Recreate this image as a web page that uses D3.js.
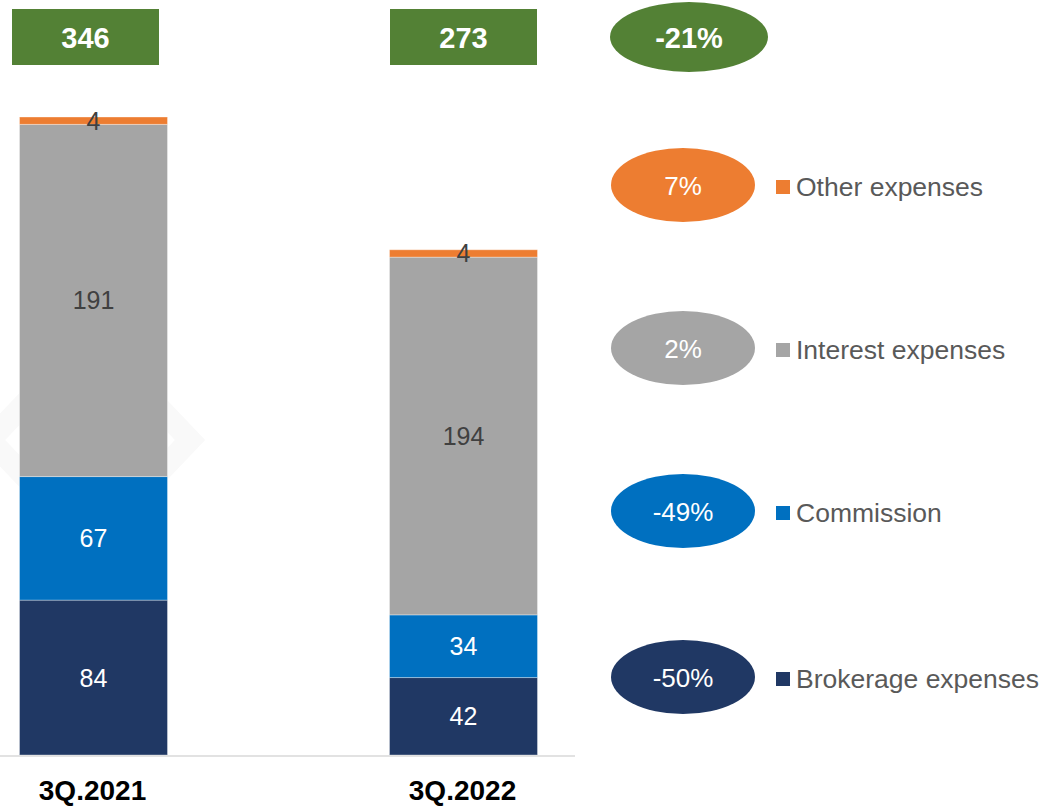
<!DOCTYPE html>
<meta charset="utf-8">
<html>
<head>
    <title>Expenses 3Q</title>
    <script type="text/javascript" src="https://cdn.jsdelivr.net/npm/d3@7"></script>
    <style type="text/css">
    	html, body {
    		padding: 0px;
    		margin: 0px;
    		background: #ffffff;
    	}
    	text {
    		font-family: "Liberation Sans", Arial, sans-serif;
    	}
    </style>
</head>
<body>
	<svg id="svg"></svg>
	<script type="text/javascript">
		// data
		var periods = ["3Q.2021", "3Q.2022"]
		var seriesNames = ["Brokerage expenses", "Commission", "Interest expenses", "Other expenses"]
		var brokerage = [84, 42]
		var commission = [67, 34]
		var interest = [191, 194]
		var other = [4, 4]
		var totals = [346, 273]
		var totalChange = "-21%"
		var seriesChange = ["-50%", "-49%", "2%", "7%"]
		var colors = ["#203864", "#0070c0", "#a5a5a5", "#ed7d31"]
		var labelColors = ["#ffffff", "#ffffff", "#404040", "#404040"]

		var width = 1043
		var height = 806
		var svg = d3.select('svg').attr('width', width).attr('height', height)

		// faint watermark behind the bars
		svg.append("polygon")
		  .attr("points", "90,335 190,440 90,545 -10,440")
		  .attr("fill", "none")
		  .attr("stroke", "#f9f9f9")
		  .attr("stroke-width", 22)

		var table = periods.map(function (p, i) {
		  return { period: p, brokerage: brokerage[i], commission: commission[i], interest: interest[i], other: other[i] }
		})
		var keys = ["brokerage", "commission", "interest", "other"]
		var stacked = d3.stack().keys(keys)(table)

		var x = d3.scaleBand().domain(periods).range([19.5, 537.5]).paddingInner(0.6).paddingOuter(0)
		var y = d3.scaleLinear().domain([0, 346]).range([755, 117])

		var layers = svg.append("g").selectAll("g")
		  .data(stacked)
		  .enter().append("g")
		  .attr("fill", function (d, i) { return colors[i] })

		layers.selectAll("rect")
		  .data(function (d) { return d })
		  .enter().append("rect")
		    .attr("x", function (d) { return x(d.data.period) })
		    .attr("width", x.bandwidth())
		    .attr("y", function (d) { return y(d[1]) })
		    .attr("height", function (d) { return y(d[0]) - y(d[1]) })
		    .attr("stroke", "rgba(255,255,255,0.35)")
		    .attr("stroke-width", 1)

		// segment labels
		layers.each(function (layer, li) {
		  d3.select(this).selectAll("text")
		    .data(layer)
		    .enter().append("text")
		      .attr("x", function (d) { return x(d.data.period) + x.bandwidth() / 2 })
		      .attr("y", function (d) { return (y(d[0]) + y(d[1])) / 2 + 9 })
		      .attr("text-anchor", "middle")
		      .attr("font-size", 25)
		      .attr("fill", labelColors[li])
		      .text(function (d) { return d[1] - d[0] })
		})

		// baseline
		svg.append("line")
		  .attr("x1", 0).attr("x2", 575)
		  .attr("y1", 756).attr("y2", 756)
		  .attr("stroke", "#d9d9d9")
		  .attr("stroke-width", 1.5)

		// category labels
		svg.append("g").selectAll("text")
		  .data(periods)
		  .enter().append("text")
		    .attr("x", function (d) { return x(d) + x.bandwidth() / 2 - 1 })
		    .attr("y", 800)
		    .attr("text-anchor", "middle")
		    .attr("font-size", 28)
		    .attr("font-weight", "bold")
		    .attr("fill", "#000000")
		    .text(function (d) { return d })

		// total boxes
		var boxX = [12, 390]
		var boxes = svg.append("g").selectAll("g")
		  .data(totals)
		  .enter().append("g")
		boxes.append("rect")
		  .attr("x", function (d, i) { return boxX[i] })
		  .attr("y", 9)
		  .attr("width", 147)
		  .attr("height", 56)
		  .attr("fill", "#538135")
		boxes.append("text")
		  .attr("x", function (d, i) { return boxX[i] + 73.5 })
		  .attr("y", 48)
		  .attr("text-anchor", "middle")
		  .attr("font-size", 29)
		  .attr("font-weight", "bold")
		  .attr("fill", "#ffffff")
		  .text(function (d) { return d })

		// total change ellipse
		svg.append("ellipse")
		  .attr("cx", 689).attr("cy", 37)
		  .attr("rx", 79).attr("ry", 35)
		  .attr("fill", "#538135")
		svg.append("text")
		  .attr("x", 689).attr("y", 48)
		  .attr("text-anchor", "middle")
		  .attr("font-size", 29)
		  .attr("font-weight", "bold")
		  .attr("fill", "#ffffff")
		  .text(totalChange)

		// legend with change ellipses (top item is last series)
		var legendY = d3.scaleOrdinal().domain(seriesNames).range([678, 512, 349, 186])
		var legend = svg.append("g").selectAll("g")
		  .data(seriesNames)
		  .enter().append("g")
		legend.append("ellipse")
		  .attr("cx", 683)
		  .attr("cy", function (d) { return legendY(d) - 1 })
		  .attr("rx", 72)
		  .attr("ry", 37)
		  .attr("fill", function (d, i) { return colors[i] })
		legend.append("text")
		  .attr("x", 683)
		  .attr("y", function (d) { return legendY(d) + 9 })
		  .attr("text-anchor", "middle")
		  .attr("font-size", 26)
		  .attr("fill", "#ffffff")
		  .text(function (d, i) { return seriesChange[i] })
		legend.append("rect")
		  .attr("x", 776)
		  .attr("y", function (d) { return legendY(d) - 6 })
		  .attr("width", 14)
		  .attr("height", 14)
		  .attr("fill", function (d, i) { return colors[i] })
		legend.append("text")
		  .attr("x", 796)
		  .attr("y", function (d) { return legendY(d) + 10 })
		  .attr("font-size", 26.5)
		  .attr("fill", "#595959")
		  .text(function (d) { return d })
	</script>
</body>
</html>
